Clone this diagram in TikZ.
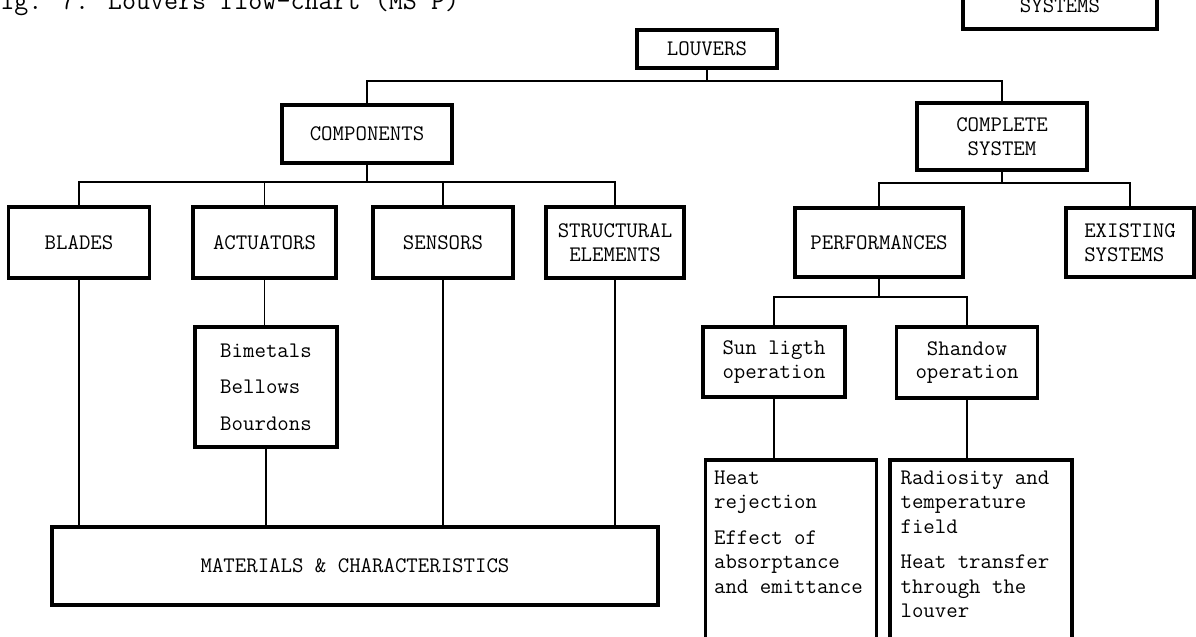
\documentclass[tikz,border=0pt]{standalone}
\usepackage{fontspec}
\newcommand{\boxfont}{\ttfamily\fontsize{15.8}{17}\selectfont}
\newcommand{\listfont}{\ttfamily\fontsize{15.8}{17.4}\selectfont}
\newcommand{\titlefont}{\ttfamily\fontsize{19.4}{20}\selectfont}
\begin{document}
\begin{tikzpicture}[
    box/.style={draw, line width=2.4pt, align=center, font=\boxfont, inner sep=2pt, minimum height=1.775cm},
    link/.style={line width=1pt},
  ]
  \path[use as bounding box, fill=white] (0,0) rectangle (29.9,-15.9);

  % caption, cut off at the top
  \node[anchor=base west, inner sep=0pt, font=\titlefont] (title) at (0,-0.2375) {ig. 7. Louvers flow-chart (MS P)};
  \node[box, minimum width=4.85cm, minimum height=1.15cm] (systems) at (26.5,-0.15) {SYSTEMS};

  % first levels
  \node[box, minimum width=3.5cm, minimum height=0.95cm] (louvers) at (17.675,-1.225) {LOUVERS};
  \node[box, minimum width=4.25cm, minimum height=1.45cm] (components) at (9.175,-3.35) {COMPONENTS};
  \node[box, minimum width=4.25cm, minimum height=1.675cm] (complete) at (25.05,-3.4125) {COMPLETE\\SYSTEM};

  % components
  \node[box, minimum width=3.525cm] (blades) at (1.975,-6.0625) {BLADES};
  \node[box, minimum width=3.575cm] (actuators) at (6.6125,-6.0625) {ACTUATORS};
  \node[box, minimum width=3.5cm] (sensors) at (11.075,-6.0625) {SENSORS};
  \node[box, minimum width=3.45cm] (structural) at (15.375,-6.0625) {STRUCTURAL\\ELEMENTS};
  \node[box, minimum width=3.55cm, minimum height=3cm, align=left,
        font=\ttfamily\fontsize{15.8}{26}\selectfont] (bimetals) at (6.65,-9.675) {Bimetals\\Bellows\\Bourdons};
  \node[box, minimum width=15.15cm, minimum height=1.95cm] (materials) at (8.875,-14.15) {MATERIALS \& CHARACTERISTICS};

  % complete system
  \node[box, minimum width=4.2cm, minimum height=1.725cm] (performances) at (21.975,-6.0625) {PERFORMANCES};
  \node[box, minimum width=3.2cm, minimum height=1.725cm, align=left] (existing) at (28.25,-6.0625) {EXISTING\\SYSTEMS};
  \node[box, minimum width=3.55cm, minimum height=1.75cm] (sun) at (19.35,-9.05) {Sun ligth\\operation};
  \node[box, minimum width=3.525cm, minimum height=1.775cm] (shandow) at (24.175,-9.0625) {Shandow\\operation};
  \node[box, minimum width=4.275cm, minimum height=4.75cm] (heat) at (19.775,-13.875) {};
  \node[box, minimum width=4.55cm, minimum height=4.75cm] (radiosity) at (24.525,-13.875) {};
  \node[anchor=north west, inner sep=0pt, align=left, font=\listfont] (heattext)
    at ([shift={(0.25,-0.3)}]heat.north west) {Heat\\rejection\\[8pt]Effect of\\absorptance\\and emittance};
  \node[anchor=north west, inner sep=0pt, align=left, font=\listfont] (radiositytext)
    at ([shift={(0.3,-0.3)}]radiosity.north west) {Radiosity and\\temperature\\field\\[8pt]Heat transfer\\through the\\louver};

  % connectors
  \draw[link] (louvers.south) -- (louvers.south |- 0,-2.025) coordinate (bar1);
  \draw[link] (components.north) |- (bar1) -| (complete.north);
  \draw[link] (components.south) -- (components.south |- 0,-4.55) coordinate (bar2);
  \draw[link] (blades.north) |- (bar2) -| (structural.north);
  \draw[link] (actuators.north) -- (actuators.north |- bar2);
  \draw[link] (sensors.north) -- (sensors.north |- bar2);
  \draw[link] (complete.south) -- (complete.south |- 0,-4.575) coordinate (bar3);
  \draw[link] (performances.north) |- (bar3) -| (existing.north);
  \draw[link] (performances.south) -- (performances.south |- 0,-7.425) coordinate (bar4);
  \draw[link] (sun.north) |- (bar4) -| (shandow.north);
  \draw[link] (actuators.south) -- (actuators.south |- bimetals.north);
  \draw[link] (sun.south) -- (sun.south |- heat.north);
  \draw[link] (shandow.south) -- (shandow.south |- radiosity.north);
  \foreach \n in {blades, sensors, structural, bimetals}
    \draw[link] (\n.south) -- (\n.south |- materials.north);

\end{tikzpicture}
\end{document}
